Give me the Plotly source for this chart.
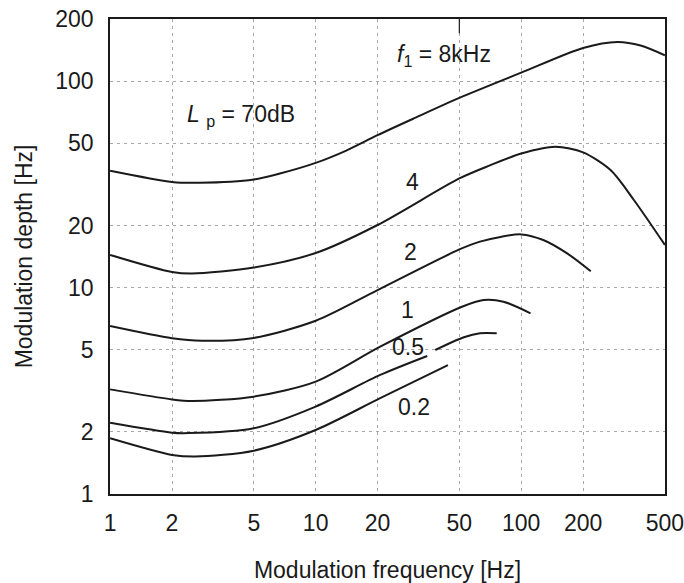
import math
import plotly.graph_objects as go

# Modulation-depth threshold curves, one per carrier frequency f1 (kHz), Lp = 70 dB
mod_freq_8k = [1, 2, 2.74, 5, 6.7, 10, 14, 20, 30, 50, 100, 200, 294, 381, 500]
depth_8k = [36.8, 32.5, 32.2, 33.4, 35.7, 40.2, 46, 54.8, 66, 83, 110, 145, 155, 149, 133.6]

mod_freq_4k = [1, 2, 2.5, 5, 10, 20, 50, 70, 100, 147, 200, 272, 354, 500]
depth_4k = [14.4, 11.9, 11.7, 12.5, 14.7, 20.1, 33.8, 39, 44.6, 48.1, 45.2, 37.1, 26.5, 16.1]

mod_freq_2k = [1, 2, 2.8, 5, 10, 20, 50, 63, 79.3, 100, 128, 168, 218]
depth_2k = [6.51, 5.68, 5.52, 5.70, 6.9, 9.72, 15.3, 16.7, 17.6, 18.1, 17.0, 14.6, 12.0]

mod_freq_1k = [1, 2, 2.5, 5, 10, 20.6, 51.5, 65.6, 82, 111]
depth_1k = [3.21, 2.87, 2.82, 2.96, 3.5, 5.17, 8.07, 8.7, 8.54, 7.5]

# the 0.5 kHz curve is interrupted next to its label
mod_freq_05k = [1, 2, 2.4, 5, 10, 20.6, 34.9, None, 38.2, 52.6, 63, 76]
depth_05k = [2.21, 1.98, 1.97, 2.08, 2.65, 3.77, 4.66, None, 4.98, 5.74, 6.0, 6.0]

mod_freq_02k = [1, 2, 2.6, 5, 10, 20.6, 44]
depth_02k = [1.86, 1.545, 1.516, 1.62, 2.04, 2.91, 4.21]

curve_names = ["8 kHz", "4 kHz", "2 kHz", "1 kHz", "0.5 kHz", "0.2 kHz"]
curve_x = [mod_freq_8k, mod_freq_4k, mod_freq_2k, mod_freq_1k, mod_freq_05k, mod_freq_02k]
curve_y = [depth_8k, depth_4k, depth_2k, depth_1k, depth_05k, depth_02k]

# in-plot curve labels
label_text = ["4", "2", "1", "0.5", "0.2"]
label_x = [29.6, 28.9, 28.0, 28.0, 30.2]
label_y = [32.4, 14.9, 7.78, 5.15, 2.64]

x_ticks = [1, 2, 5, 10, 20, 50, 100, 200, 500]
y_ticks = [1, 2, 5, 10, 20, 50, 100, 200]

FONT = "Liberation Sans, Arial, Helvetica, sans-serif"
INK = "#1a1a1a"
FS = 23

fig = go.Figure()
for name, xs, ys in zip(curve_names, curve_x, curve_y):
    fig.add_trace(go.Scatter(
        x=xs, y=ys, mode="lines", name=name,
        line=dict(color=INK, width=2, shape="spline", smoothing=0.8),
        connectgaps=False, showlegend=False, hoverinfo="skip",
    ))


def note(text, x, y, xanchor="center"):
    # annotations on log axes are positioned in log10 units
    fig.add_annotation(x=math.log10(x), y=math.log10(y), xref="x", yref="y",
                       text=text, showarrow=False,
                       font=dict(size=FS, color=INK, family=FONT),
                       xanchor=xanchor, yanchor="middle")


for t, lx, ly in zip(label_text, label_x, label_y):
    note(t, lx, ly)

note("<i>f</i><sub>1</sub> = 8kHz", 24.4, 133.6, xanchor="left")
note("<i>L</i> <sub>p</sub> = 70dB", 2.32, 68.4, xanchor="left")

# short tick hanging from the top frame at 50 Hz
fig.add_shape(type="line", xref="x", yref="paper", x0=50, x1=50, y0=1, y1=0.97,
              line=dict(color=INK, width=1.2))

axis_common = dict(
    type="log",
    showgrid=True, gridcolor="#a8a8a8", gridwidth=1, griddash="3px,4px",
    showline=True, linecolor=INK, linewidth=1.5, mirror=True,
    ticks="", zeroline=False, automargin=False,
    ticklabeloverflow="allow",
    tickfont=dict(size=FS, color=INK, family=FONT),
)

# a hair of padding keeps the end ticks (1, 500, 200) inside the range
pad = 0.0006
fig.update_xaxes(
    **axis_common,
    range=[-pad, math.log10(500) + pad],
    tickvals=x_ticks, ticktext=[str(v) for v in x_ticks],
    ticklabelstandoff=8,
    title=dict(text="Modulation frequency [Hz]", standoff=28,
               font=dict(size=FS, color=INK, family=FONT)),
)
fig.update_yaxes(
    **axis_common,
    range=[-pad, math.log10(200) + pad],
    tickvals=y_ticks, ticktext=[str(v) for v in y_ticks],
    ticklabelstandoff=10,
    title=dict(text="Modulation depth [Hz]", standoff=16,
               font=dict(size=FS, color=INK, family=FONT)),
)

fig.update_layout(
    width=684, height=583,
    margin=dict(l=110, r=19, t=19, b=89),
    paper_bgcolor="white", plot_bgcolor="white",
    font=dict(family=FONT, color=INK),
)

fig.write_html("out.html")
